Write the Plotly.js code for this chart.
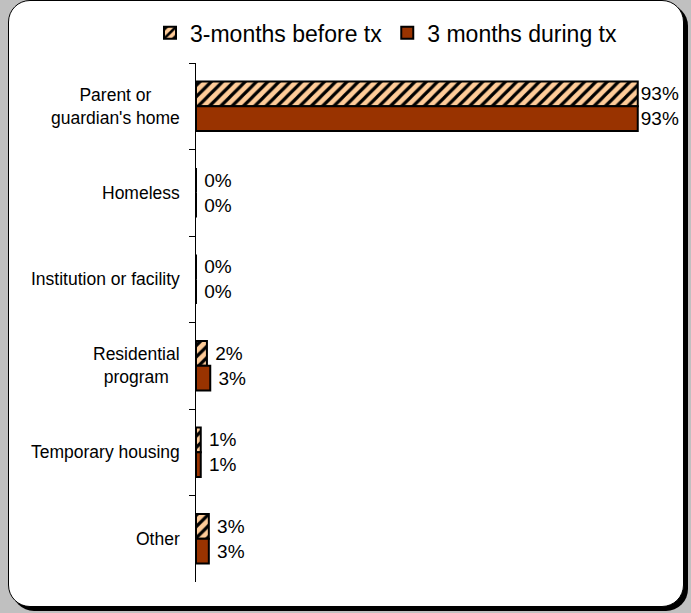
<!DOCTYPE html>
<html>
<head>
<meta charset="utf-8">
<script src="https://cdn.plot.ly/plotly-3.0.1.min.js"></script>
<style>
  html, body { margin: 0; padding: 0; width: 691px; height: 613px; background: #C0C0C0; overflow: hidden; }
  #frame { position: absolute; left: 8px; top: 0px; width: 674px; height: 605px; background: #FFFFFF;
           border: 1px solid #000; border-radius: 22px; box-shadow: 4px 4px 0 #000; }
  #chart { position: absolute; left: 0; top: 0; width: 691px; height: 613px; }
</style>
</head>
<body>
<div id="frame"></div>
<div id="chart"></div>
<script>
const categories = ["Parent or<br>guardian's home", "Homeless", "Institution or facility", "Residential<br>program", "Temporary housing", "Other"];
const seriesNames = ["3-months before tx", "3 months during tx"];
const beforeTx = [93, 0, 0, 2.3, 1.0, 2.7];
const duringTx = [93, 0, 0, 3.0, 1.0, 2.7];

const FONT = 'Liberation Sans, Arial, sans-serif';
// label template: small bars get a little extra gap, like the reference
const tmpl = vals => vals.map(v => (v >= 50 ? '%{x:.0f}%' : ' %{x:.0f}%'));

const traces = [
  {
    type: 'bar', orientation: 'h', name: seriesNames[0],
    y: categories, x: beforeTx,
    marker: { color: '#FFCC99', line: { color: '#000000', width: 2 },
              pattern: { shape: '/', fgcolor: '#000000', bgcolor: '#FFCC99', size: 8, solidity: 0.4 } },
    texttemplate: tmpl(beforeTx), textposition: 'outside', cliponaxis: false,
    textfont: { family: FONT, size: 19, color: '#000' },
    hoverinfo: 'skip'
  },
  {
    type: 'bar', orientation: 'h', name: seriesNames[1],
    y: categories, x: duringTx,
    marker: { color: '#993300', line: { color: '#000000', width: 2 } },
    texttemplate: tmpl(duringTx), textposition: 'outside', cliponaxis: false,
    textfont: { family: FONT, size: 19, color: '#000' },
    hoverinfo: 'skip'
  }
];

const annotations = categories.map(c => ({
  xref: 'paper', yref: 'y', x: -0.03, y: c, xanchor: 'right', yanchor: 'middle',
  text: c, showarrow: false, align: 'center',
  font: { family: FONT, size: 17.5, color: '#000' }
}));

const layout = {
  width: 691, height: 613,
  margin: { l: 196, r: 20, t: 63, b: 31 },
  paper_bgcolor: 'rgba(0,0,0,0)', plot_bgcolor: 'rgba(0,0,0,0)',
  barmode: 'group', bargap: 0.43, bargroupgap: 0,
  font: { family: FONT, color: '#000' },
  showlegend: true,
  legend: { orientation: 'h', x: 0.40, xanchor: 'center', yref: 'container', y: 0.9815, yanchor: 'top',
            font: { size: 23, color: '#000' }, bgcolor: 'rgba(0,0,0,0)', traceorder: 'normal',
            itemwidth: 30 },
  xaxis: { range: [0, 100], visible: false, fixedrange: true },
  yaxis: { autorange: 'reversed', type: 'category', showticklabels: false,
           showline: true, linecolor: '#000', linewidth: 1,
           ticks: 'outside', tickson: 'boundaries', ticklen: 6, tickcolor: '#000',
           showgrid: false, zeroline: false, fixedrange: true },
  annotations: annotations
};

Plotly.newPlot('chart', traces, layout, { displayModeBar: false, staticPlot: true });
</script>
</body>
</html>
